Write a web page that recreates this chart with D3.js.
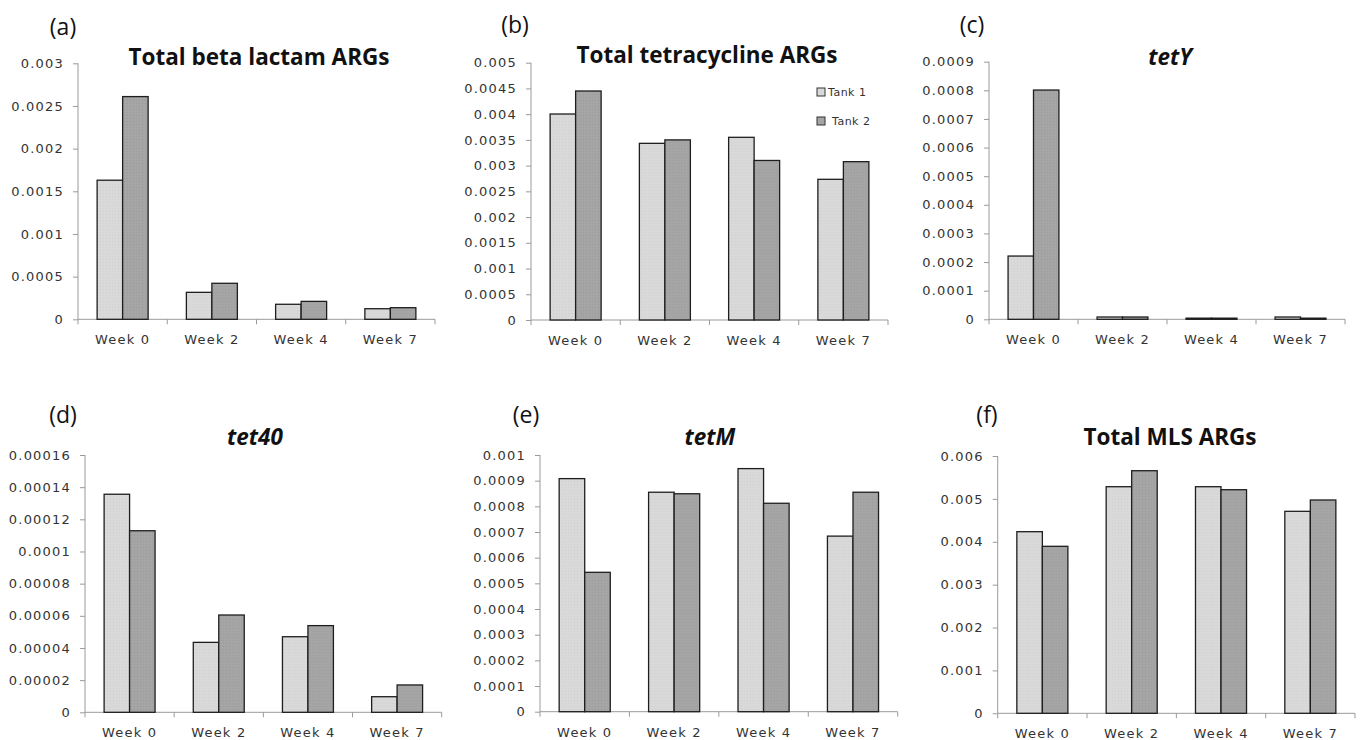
<!DOCTYPE html>
<html>
<head>
<meta charset="utf-8">
<script src="https://cdn.jsdelivr.net/npm/d3@7"></script>
<style>
  body { margin: 0; background: #fff; }
  svg { display: block; }
</style>
</head>
<body>
<div id="chart"></div>
<script>
// 카테고리와 시리즈
const weeks = ["Week 0", "Week 2", "Week 4", "Week 7"];
const tanks = ["Tank 1", "Tank 2"];

// 각 패널의 값 (Tank 1, Tank 2)
const betaLactamTank1 = [0.00163, 0.000316, 0.000176, 0.000124];
const betaLactamTank2 = [0.00261, 0.000422, 0.00021, 0.000136];
const tetracyclineTank1 = [0.004003, 0.003433, 0.00355, 0.002734];
const tetracyclineTank2 = [0.00445, 0.0035, 0.0031, 0.003077];
const tetYTank1 = [0.000221, 0.000008, 0.000004, 0.000008];
const tetYTank2 = [0.000801, 0.000008, 0.000004, 0.000004];
const tet40Tank1 = [0.0001356, 0.0000435, 0.000047, 0.0000097];
const tet40Tank2 = [0.0001129, 0.0000605, 0.0000539, 0.000017];
const tetMTank1 = [0.000908, 0.000855, 0.000947, 0.000684];
const tetMTank2 = [0.000543, 0.000849, 0.000812, 0.000855];
const mlsTank1 = [0.004235, 0.005284, 0.005284, 0.00471];
const mlsTank2 = [0.003894, 0.005657, 0.005214, 0.004974];

// y축 눈금 라벨
const ticksA = ["0", "0.0005", "0.001", "0.0015", "0.002", "0.0025", "0.003"];
const ticksB = ["0", "0.0005", "0.001", "0.0015", "0.002", "0.0025", "0.003", "0.0035", "0.004", "0.0045", "0.005"];
const ticksC = ["0", "0.0001", "0.0002", "0.0003", "0.0004", "0.0005", "0.0006", "0.0007", "0.0008", "0.0009"];
const ticksD = ["0", "0.00002", "0.00004", "0.00006", "0.00008", "0.0001", "0.00012", "0.00014", "0.00016"];
const ticksE = ["0", "0.0001", "0.0002", "0.0003", "0.0004", "0.0005", "0.0006", "0.0007", "0.0008", "0.0009", "0.001"];
const ticksF = ["0", "0.001", "0.002", "0.003", "0.004", "0.005", "0.006"];

const titles = ["Total beta lactam ARGs", "Total tetracycline ARGs", "tetY", "tet40", "tetM", "Total MLS ARGs"];
const panelLabels = ["(a)", "(b)", "(c)", "(d)", "(e)", "(f)"];

// 패널 배치 (축 위치, 제목 위치)
const panels = [
  { t1: betaLactamTank1, t2: betaLactamTank2, ticks: ticksA, x0: 78, x1: 435, top: 63.3, zero: 319.3, tx: 259, ty: 57, lx: 63, ly: 27, italic: false },
  { t1: tetracyclineTank1, t2: tetracyclineTank2, ticks: ticksB, x0: 531, x1: 888, top: 62.7, zero: 320, tx: 707, ty: 55, lx: 515, ly: 25, italic: false, legend: true },
  { t1: tetYTank1, t2: tetYTank2, ticks: ticksC, x0: 989, x1: 1345, top: 61.7, zero: 319.3, tx: 1170, ty: 57, lx: 972, ly: 25, italic: true },
  { t1: tet40Tank1, t2: tet40Tank2, ticks: ticksD, x0: 85, x1: 441.7, top: 455, zero: 712.3, tx: 255, ty: 437, lx: 63, ly: 415, italic: true },
  { t1: tetMTank1, t2: tetMTank2, ticks: ticksE, x0: 540, x1: 897.7, top: 455, zero: 711.7, tx: 710, ty: 437, lx: 526, ly: 415, italic: true },
  { t1: mlsTank1, t2: mlsTank2, ticks: ticksF, x0: 997.7, x1: 1355, top: 456, zero: 713.3, tx: 1170, ty: 437, lx: 987, ly: 415, italic: false }
];

const tankColor = d3.scaleOrdinal().domain(tanks).range(["#d9d9d9", "#a5a5a5"]);
const axisColor = "#9a9a9a";
const tickFont = "DejaVu Sans, Verdana, sans-serif";
const titleFont = "'Open Sans', Lato, sans-serif";

const svg = d3.select("#chart").append("svg")
  .attr("width", 1363)
  .attr("height", 740)
  .style("background", "white");

// 바 텍스처용 작은 점 패턴
tanks.forEach((tank, i) => {
  const p = svg.append("defs").append("pattern")
    .attr("id", "tex" + i)
    .attr("width", 3).attr("height", 3)
    .attr("patternUnits", "userSpaceOnUse");
  p.append("rect").attr("width", 3).attr("height", 3).attr("fill", tankColor(tank));
  p.append("rect").attr("x", 1).attr("y", 1).attr("width", 1).attr("height", 1)
    .attr("fill", i === 0 ? "#cfcfcf" : "#9a9a9a");
});

function drawPanel(cfg, idx) {
  const g = svg.append("g");
  const maxVal = +cfg.ticks[cfg.ticks.length - 1];

  const x = d3.scaleBand().domain(weeks).range([cfg.x0, cfg.x1]).padding(0);
  const y = d3.scaleLinear().domain([0, maxVal]).range([cfg.zero, cfg.top]);
  // Excel 기본 gap width 150%
  const barW = x.bandwidth() / 3.5;
  const xTank = d3.scaleBand().domain(tanks)
    .range([x.bandwidth() / 2 - barW, x.bandwidth() / 2 + barW]);

  // y축
  const yAxis = g.append("g")
    .attr("transform", `translate(${cfg.x0},0)`)
    .call(d3.axisLeft(y).tickValues(cfg.ticks.map(Number)).tickFormat((d, i) => cfg.ticks[i]).tickSize(5).tickPadding(9));
  yAxis.select(".domain").attr("stroke", axisColor).attr("d", `M0,${cfg.zero}V${cfg.top}`);
  yAxis.selectAll(".tick line").attr("stroke", axisColor);
  yAxis.selectAll(".tick text")
    .attr("fill", "#333")
    .style("font-family", tickFont)
    .style("font-size", "13px")
    .style("letter-spacing", "1.2px");

  // x축: 카테고리 경계에 눈금
  const xAxis = g.append("g").attr("transform", `translate(0,${cfg.zero})`);
  xAxis.append("line")
    .attr("x1", cfg.x0).attr("x2", cfg.x1)
    .attr("stroke", axisColor);
  const bounds = weeks.map(w => x(w)).concat([cfg.x1]);
  xAxis.selectAll(".xt").data(bounds).enter().append("line")
    .attr("x1", d => d).attr("x2", d => d)
    .attr("y1", 0).attr("y2", 5)
    .attr("stroke", axisColor);
  xAxis.selectAll(".xl").data(weeks).enter().append("text")
    .attr("x", d => x(d) + x.bandwidth() / 2)
    .attr("y", 25)
    .attr("text-anchor", "middle")
    .attr("fill", "#333")
    .style("font-family", tickFont)
    .style("font-size", "13px")
    .style("letter-spacing", "1.2px")
    .text(d => d);

  // 막대
  const rows = weeks.map((w, i) => ({ week: w, vals: [cfg.t1[i], cfg.t2[i]] }));
  const grp = g.selectAll(".grp").data(rows).enter().append("g")
    .attr("transform", d => `translate(${x(d.week)},0)`);
  grp.selectAll("rect")
    .data(d => d.vals.map((v, j) => ({ tank: tanks[j], v, j })))
    .enter().append("rect")
    .attr("x", d => xTank(d.tank))
    .attr("y", d => y(d.v))
    .attr("width", xTank.bandwidth())
    .attr("height", d => cfg.zero - y(d.v))
    .attr("fill", d => `url(#tex${d.j})`)
    .attr("stroke", "#1e1e1e")
    .attr("stroke-width", 1.3);

  // 제목
  g.append("text")
    .attr("x", cfg.tx)
    .attr("y", cfg.ty + 8)
    .attr("text-anchor", "middle")
    .style("font-family", titleFont)
    .style("font-weight", "bold")
    .style("font-style", cfg.italic ? "italic" : "normal")
    .style("font-size", "22.5px")
    .attr("fill", "#111")
    .text(titles[idx]);

  // 패널 라벨
  g.append("text")
    .attr("x", cfg.lx)
    .attr("y", cfg.ly + 8)
    .attr("text-anchor", "middle")
    .style("font-family", titleFont)
    .style("font-size", "23px")
    .attr("fill", "#111")
    .text(panelLabels[idx]);

  // 범례
  if (cfg.legend) {
    const lg = g.append("g");
    tanks.forEach((tank, j) => {
      const yy = 92 + j * 29;
      lg.append("rect")
        .attr("x", 817).attr("y", yy - 4)
        .attr("width", 8).attr("height", 8)
        .attr("fill", tankColor(tank))
        .attr("stroke", "#333").attr("stroke-width", 1);
      lg.append("text")
        .attr("x", j === 0 ? 828 : 832)
        .attr("y", yy + 4)
        .attr("fill", "#333")
        .style("font-family", tickFont)
        .style("font-size", "11px")
        .style("letter-spacing", "0.5px")
        .text(tank);
    });
  }
}

panels.forEach(drawPanel);
</script>
</body>
</html>
